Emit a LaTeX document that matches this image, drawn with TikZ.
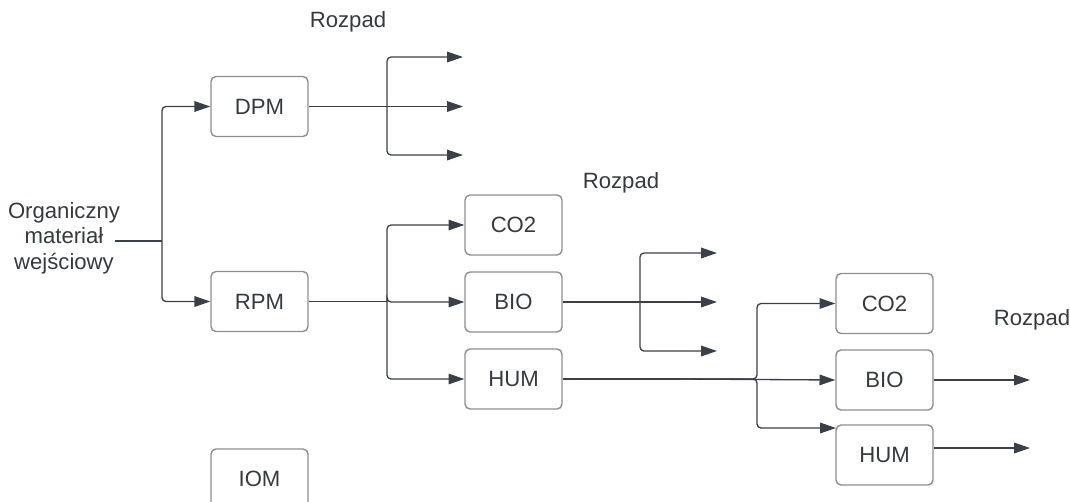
\documentclass[tikz,border=0pt]{standalone}
\usepackage{fontspec}
\setmainfont{Liberation Sans}
\usetikzlibrary{arrows.meta,calc}
\definecolor{linec}{HTML}{3A404A}
\definecolor{boxc}{HTML}{8E8E8E}
\definecolor{textc}{HTML}{333A40}
\tikzset{
  box/.style={draw=boxc, line width=0.8pt, rounded corners=0.1cm, minimum width=1.94cm, minimum height=1.2cm, inner sep=0pt, text=textc, font=\fontsize{12.6}{15}\selectfont},
  conn/.style={draw=linec, line width=0.75pt, rounded corners=0.08cm, -{Triangle[length=9pt,width=6pt]}},
  plain/.style={draw=linec, line width=0.75pt},
  lbl/.style={text=textc, font=\fontsize{12.6}{15}\selectfont, inner sep=0pt}
}
\begin{document}
\begin{tikzpicture}[x=0.02cm,y=-0.02cm]
\useasboundingbox (0,0) rectangle (1070,501);
\clip (0,0) rectangle (1070,501);
% nodes
\node[lbl, align=center, font=\fontsize{12.6}{14.4}\selectfont] (in) at (64,238) {Organiczny\\materiał\\wejściowy};
\node[box] (DPM) at (259.5,106.5) {DPM};
\node[box] (RPM) at (259.5,301.5) {RPM};
\node[box] (IOM) at (259.5,479) {IOM};
\node[box] (CO2a) at (513.5,225) {CO2};
\node[box] (BIOa) at (513.5,302) {BIO};
\node[box] (HUMa) at (513.5,379) {HUM};
\node[box] (CO2b) at (884.5,303.5) {CO2};
\node[box] (BIOb) at (884.5,380) {BIO};
\node[box] (HUMb) at (884.5,455) {HUM};
\node[lbl] (r1) at (348,22) {Rozpad};
\node[lbl] (r2) at (621,183) {Rozpad};
\node[lbl] (r3) at (1032,320) {Rozpad};
% free ends
\coordinate (inS) at (115,241);
\coordinate (b0) at (162,241);
\coordinate (b1) at (387,106.5);
\coordinate (d1) at (463,57);
\coordinate (d2) at (463,106.5);
\coordinate (d3) at (463,155);
\coordinate (b2) at (387,301.5);
\coordinate (b3) at (640,302);
\coordinate (e1) at (717,253);
\coordinate (e2) at (717,302);
\coordinate (e3) at (717,351);
\coordinate (h0) at (680,379);
\coordinate (hT) at (836,428);
\coordinate (o1) at (1030,380);
\coordinate (o2) at (1030,448);
\coordinate (hs) at (933.5,448);
% connectors
\draw[plain] (inS) -- (b0);
\draw[conn] (b0) |- (DPM.west);
\draw[conn] (b0) |- (RPM.west);
\draw[plain] (DPM.east) -- (b1);
\draw[conn] (b1) |- (d1);
\draw[conn] (b1) -- (d2);
\draw[conn] (b1) |- (d3);
\draw[plain] (RPM.east) -- (b2);
\draw[conn] (b2) |- (CO2a.west);
\draw[conn] (b2) |- (BIOa.west);
\draw[conn] (b2) |- (HUMa.west);
\draw[plain] (BIOa.east) -- (b3);
\draw[conn] (b3) |- (e1);
\draw[conn] (b3) -- (e2);
\draw[conn] (b3) |- (e3);
\draw[plain] (HUMa.east) -- (h0);
\draw[conn] (h0) -| (757,340) |- (CO2b.west);
\draw[conn] (h0) -- (BIOb.west);
\draw[conn] (h0) -| (757,400) |- (hT);
\draw[conn] (BIOb.east) -- (o1);
\draw[conn] (hs) -- (o2);
\end{tikzpicture}
\end{document}
